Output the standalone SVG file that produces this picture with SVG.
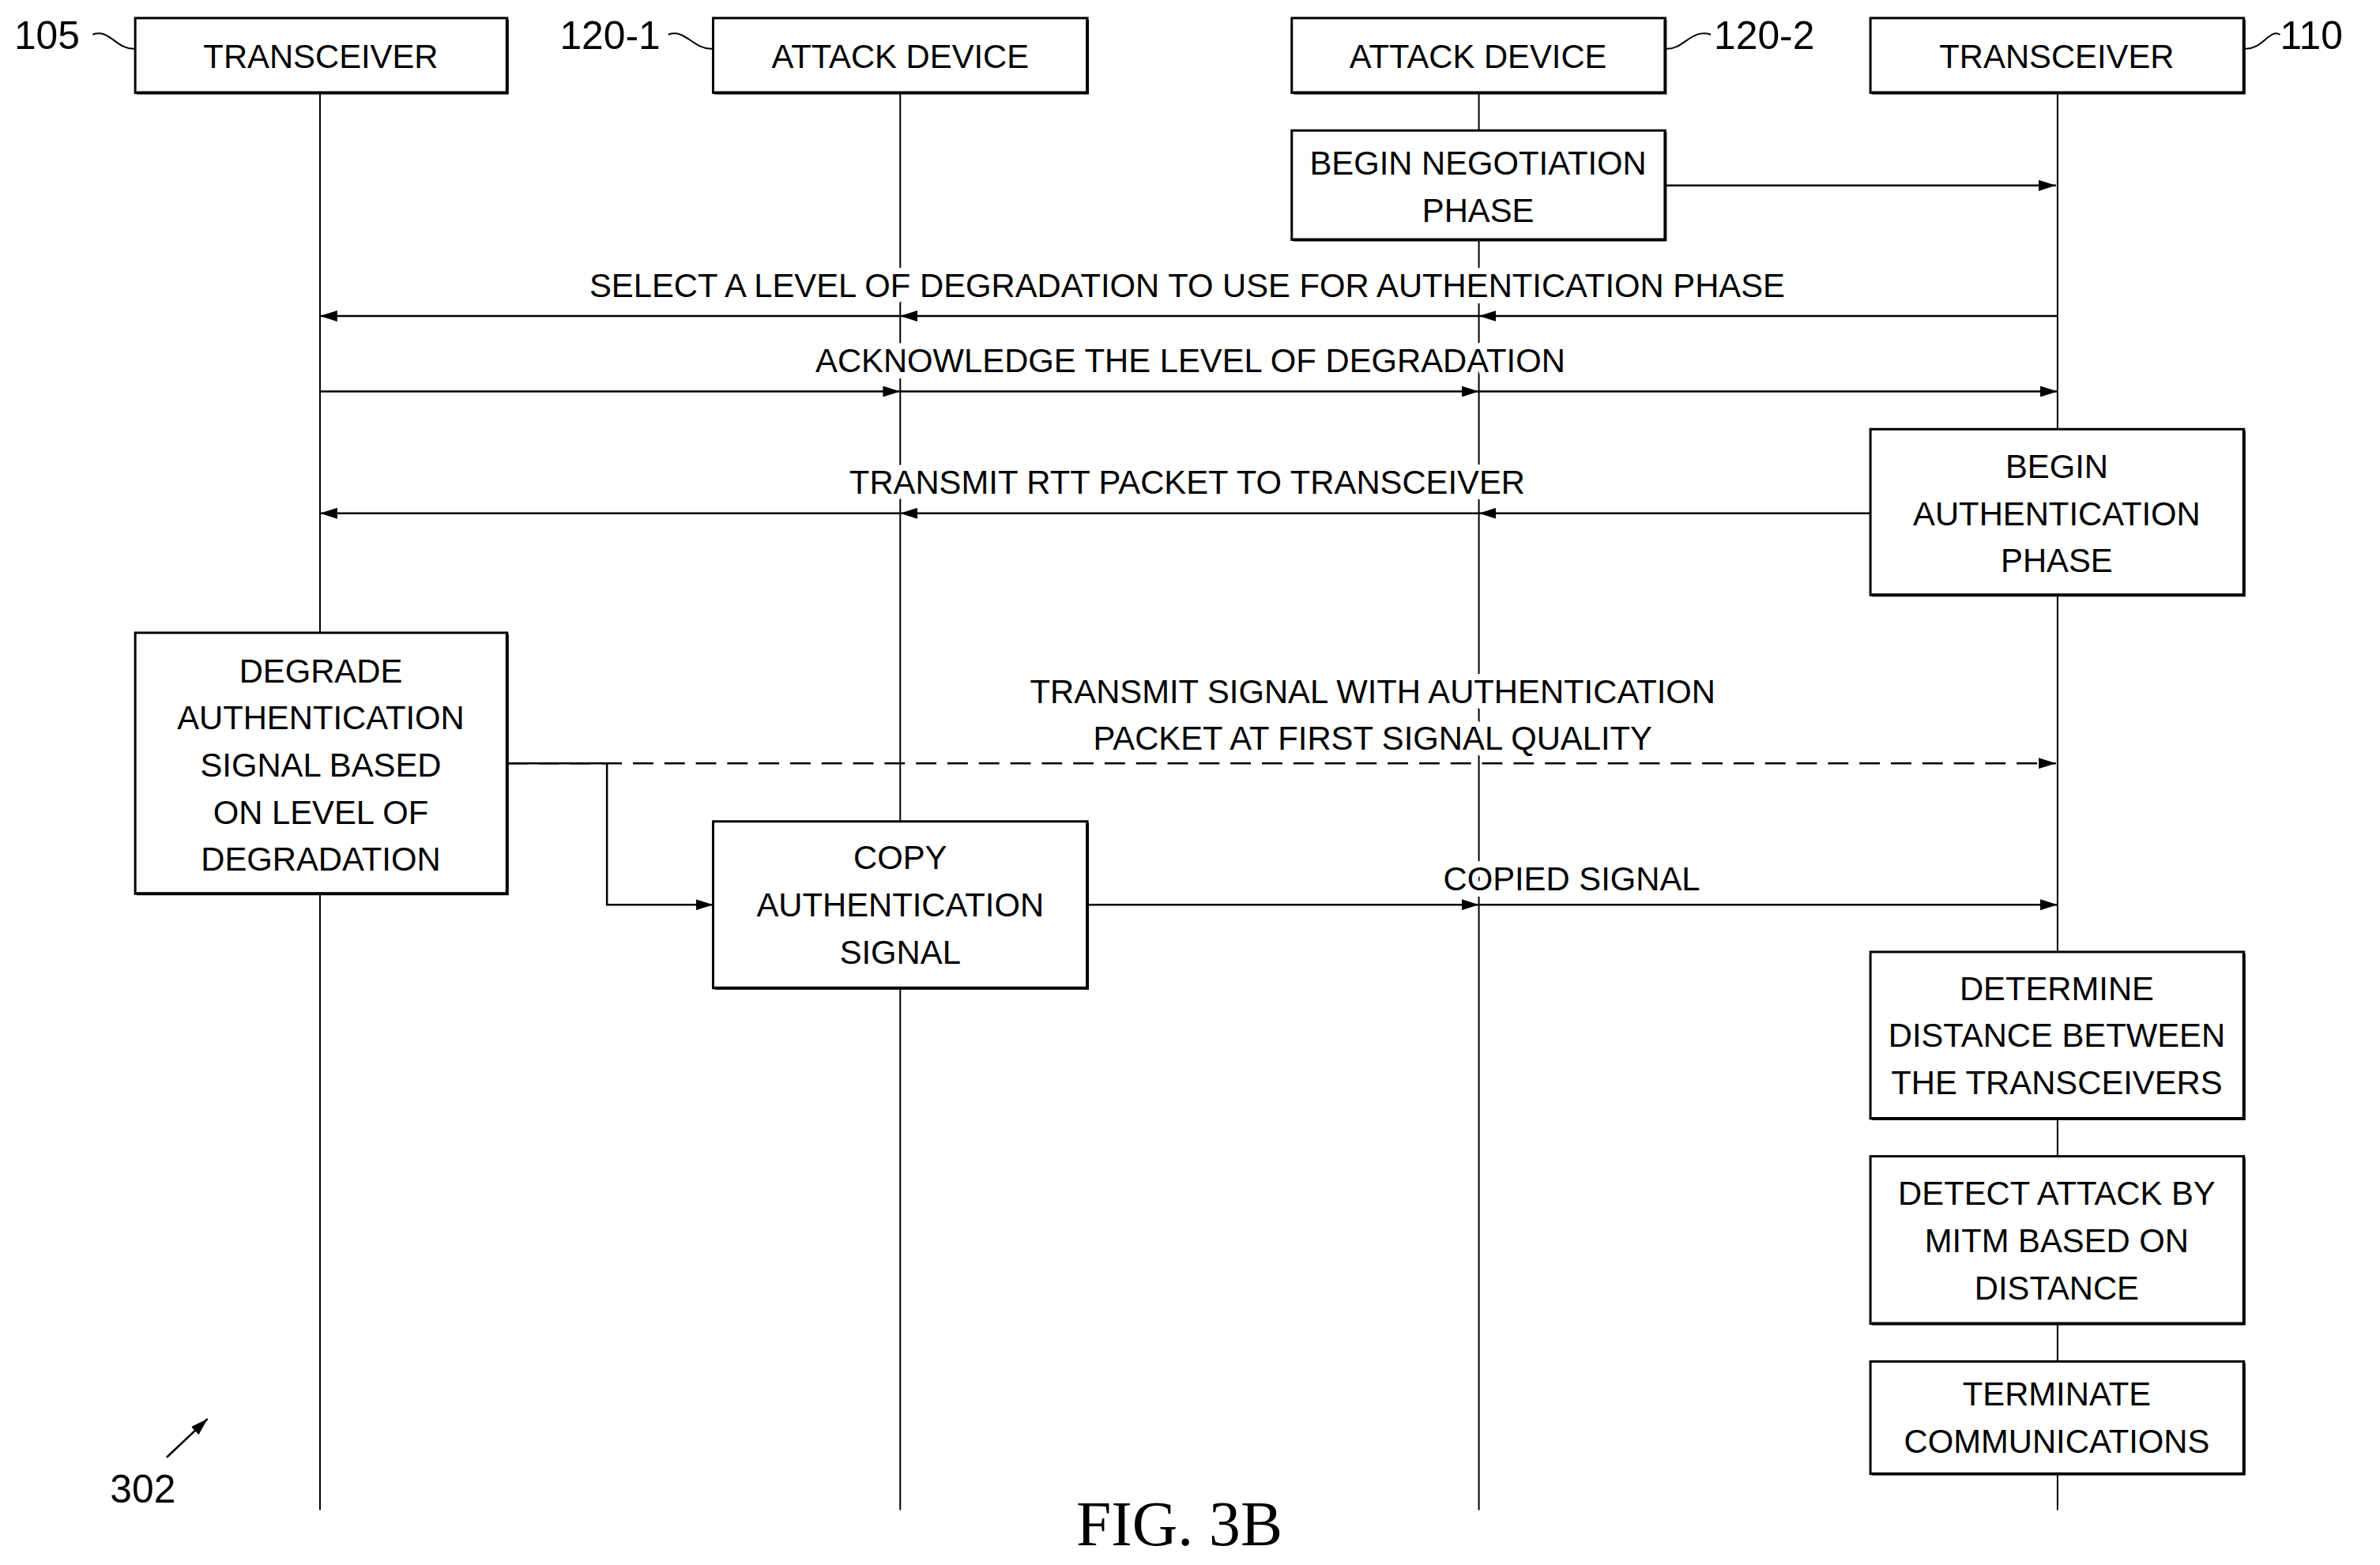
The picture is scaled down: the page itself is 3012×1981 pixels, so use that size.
<svg xmlns="http://www.w3.org/2000/svg" width="3012" height="1981" viewBox="0 0 3012 1981">
<style>
text{font-family:"Liberation Sans",Arial,sans-serif;font-size:42px;fill:#000;text-anchor:middle}
.lbl{stroke:#fff;stroke-width:16px;paint-order:stroke;stroke-linejoin:round}
.ref{text-anchor:start;font-size:50px}
.box{fill:#fff;stroke:#000;stroke-width:3}
.sh{fill:none;stroke:#000;stroke-width:4}
.ll{stroke:#000;stroke-width:2;fill:none}
.ar{stroke:#000;stroke-width:2.5;fill:none}
</style>
<defs>
<marker id="ah" markerWidth="24" markerHeight="14" refX="22" refY="7" orient="auto" markerUnits="userSpaceOnUse"><path d="M0,0 L22,7 L0,14 Z" fill="#000"/></marker>
<marker id="mid" markerWidth="24" markerHeight="14" refX="22" refY="7" orient="auto" markerUnits="userSpaceOnUse"><path d="M0,0 L22,7 L0,14 Z" fill="#000"/></marker>
</defs>
<rect width="3012" height="1981" fill="#fff"/>
<g transform="scale(0.995)">
<g id="lifelines">
<line class="ll" x1="407" y1="118" x2="407" y2="1921"/>
<line class="ll" x1="1145" y1="118" x2="1145" y2="1921"/>
<line class="ll" x1="1881" y1="118" x2="1881" y2="1921"/>
<line class="ll" x1="2617" y1="118" x2="2617" y2="1921"/>
</g>
<g id="connectors">
<line class="ar" x1="2118" y1="236" x2="2615" y2="236" marker-end="url(#ah)"/>
<polyline class="ar" points="2617,402 1881,402 1145,402 407,402" marker-mid="url(#mid)" marker-end="url(#ah)"/>
<polyline class="ar" points="407,498 1145,498 1881,498 2617,498" marker-mid="url(#mid)" marker-end="url(#ah)"/>
<polyline class="ar" points="2379,653 1881,653 1145,653 407,653" marker-mid="url(#mid)" marker-end="url(#ah)"/>
<line class="ar" x1="645" y1="971" x2="2615" y2="971" stroke-dasharray="26,14" marker-end="url(#ah)"/>
<polyline class="ar" points="645,971 772,971 772,1151 907,1151" marker-end="url(#ah)"/>
<polyline class="ar" points="1383,1151 1881,1151 2617,1151" marker-mid="url(#mid)" marker-end="url(#ah)"/>
<line class="ar" x1="212" y1="1854" x2="264" y2="1805" marker-end="url(#ah)"/>
</g>
<g id="labels">
<text class="lbl" x="1510" y="378">SELECT A LEVEL OF DEGRADATION TO USE FOR AUTHENTICATION PHASE</text>
<text class="lbl" x="1514" y="473">ACKNOWLEDGE THE LEVEL OF DEGRADATION</text>
<text class="lbl" x="1510" y="628">TRANSMIT RTT PACKET TO TRANSCEIVER</text>
<text class="lbl" x="1746" y="894">TRANSMIT SIGNAL WITH AUTHENTICATION</text>
<text class="lbl" x="1746" y="954">PACKET AT FIRST SIGNAL QUALITY</text>
<text class="lbl" x="1999" y="1133">COPIED SIGNAL</text>
<text class="ref" x="140" y="1912">302</text>
<text x="1500" y="1966" style="font-family:'Liberation Serif',serif;font-size:80px">FIG. 3B</text>
</g>
<g id="refs">
<text class="ref" x="18" y="62">105</text><path class="ll" d="M118,44 C140,36 148,64 172,62"/>
<text class="ref" x="712" y="62">120-1</text><path class="ll" d="M850,44 C872,36 882,64 907,62"/>
<text class="ref" x="2180" y="62">120-2</text><path class="ll" d="M2118,62 C2142,64 2150,36 2176,44"/>
<text class="ref" x="2900" y="62">110</text><path class="ll" d="M2854,62 C2878,64 2886,36 2900,44"/>
</g>
<g id="n-tx105"><rect class="box" x="172" y="23" width="473" height="95"/><polyline class="sh" points="645,25 645,118 174,118"/><text x="408" y="86">TRANSCEIVER</text></g>
<g id="n-att1"><rect class="box" x="907" y="23" width="476" height="95"/><polyline class="sh" points="1383,25 1383,118 909,118"/><text x="1145" y="86">ATTACK DEVICE</text></g>
<g id="n-att2"><rect class="box" x="1643" y="23" width="475" height="95"/><polyline class="sh" points="2118,25 2118,118 1645,118"/><text x="1880" y="86">ATTACK DEVICE</text></g>
<g id="n-tx110"><rect class="box" x="2379" y="23" width="475" height="95"/><polyline class="sh" points="2854,25 2854,118 2381,118"/><text x="2616" y="86">TRANSCEIVER</text></g>
<g id="n-neg"><rect class="box" x="1643" y="166" width="475" height="139"/><polyline class="sh" points="2118,168 2118,305 1645,305"/><text x="1880" y="222">BEGIN NEGOTIATION</text><text x="1880" y="282">PHASE</text></g>
<g id="n-auth"><rect class="box" x="2379" y="546" width="475" height="211"/><polyline class="sh" points="2854,548 2854,757 2381,757"/><text x="2616" y="608">BEGIN</text><text x="2616" y="668">AUTHENTICATION</text><text x="2616" y="728">PHASE</text></g>
<g id="n-degrade"><rect class="box" x="172" y="805" width="473" height="332"/><polyline class="sh" points="645,807 645,1137 174,1137"/><text x="408" y="868">DEGRADE</text><text x="408" y="928">AUTHENTICATION</text><text x="408" y="988">SIGNAL BASED</text><text x="408" y="1048">ON LEVEL OF</text><text x="408" y="1108">DEGRADATION</text></g>
<g id="n-copy"><rect class="box" x="907" y="1045" width="476" height="212"/><polyline class="sh" points="1383,1047 1383,1257 909,1257"/><text x="1145" y="1106">COPY</text><text x="1145" y="1166">AUTHENTICATION</text><text x="1145" y="1226">SIGNAL</text></g>
<g id="n-determine"><rect class="box" x="2379" y="1211" width="475" height="212"/><polyline class="sh" points="2854,1213 2854,1423 2381,1423"/><text x="2616" y="1272">DETERMINE</text><text x="2616" y="1332">DISTANCE BETWEEN</text><text x="2616" y="1392">THE TRANSCEIVERS</text></g>
<g id="n-detect"><rect class="box" x="2379" y="1471" width="475" height="213"/><polyline class="sh" points="2854,1473 2854,1684 2381,1684"/><text x="2616" y="1533">DETECT ATTACK BY</text><text x="2616" y="1593">MITM BASED ON</text><text x="2616" y="1653">DISTANCE</text></g>
<g id="n-term"><rect class="box" x="2379" y="1732" width="475" height="143"/><polyline class="sh" points="2854,1734 2854,1875 2381,1875"/><text x="2616" y="1788">TERMINATE</text><text x="2616" y="1848">COMMUNICATIONS</text></g>
</g>
</svg>
